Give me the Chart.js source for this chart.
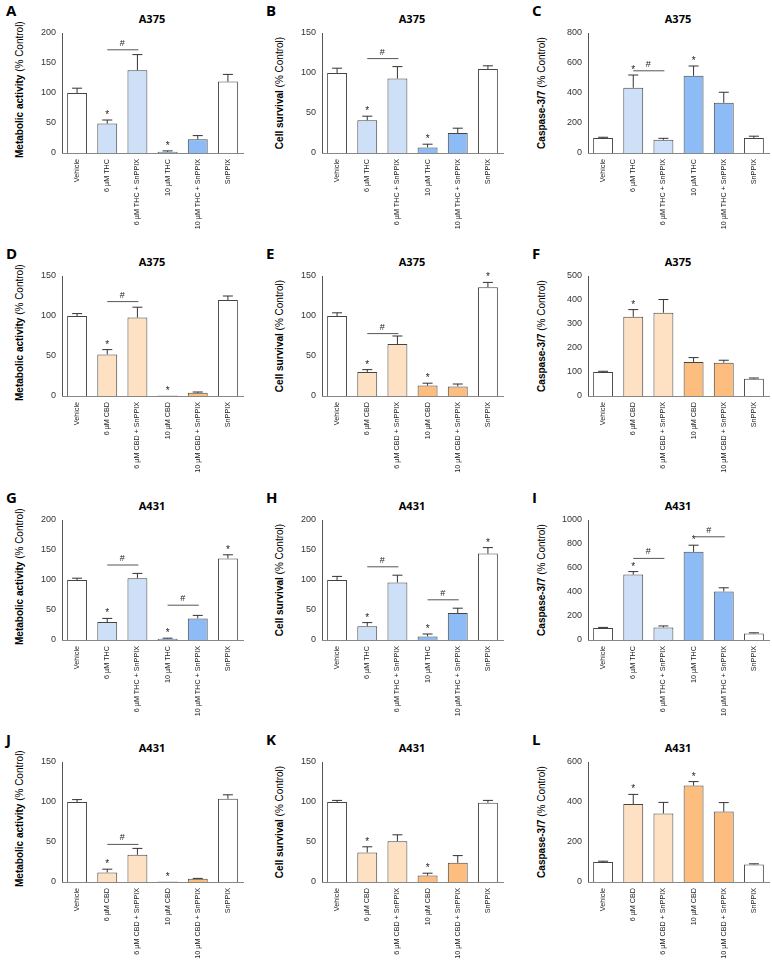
<!DOCTYPE html>
<html><head><meta charset="utf-8">
<script src="https://cdn.jsdelivr.net/npm/chart.js@4.4.0/dist/chart.umd.min.js"></script>
<style>
body{margin:0;background:#fff;width:772px;height:960px;position:relative;font-family:"Liberation Sans",Arial,sans-serif;overflow:hidden}
canvas{position:absolute}
.lt{position:absolute;font:bold 15px "Open Sans",Arial,sans-serif}
.ti{position:absolute;font:bold 11px "Open Sans",Arial,sans-serif;width:180px;text-align:center}
.yt{position:absolute;transform-origin:0 0;transform:rotate(-90deg);font-size:10px;white-space:nowrap;width:130px;text-align:center}
</style></head><body>
<script>
const thcCats=["Vehicle","6 µM THC","6 µM THC + SnPPIX","10 µM THC","10 µM THC + SnPPIX","SnPPIX"];
const cbdCats=["Vehicle","6 µM CBD","6 µM CBD + SnPPIX","10 µM CBD","10 µM CBD + SnPPIX","SnPPIX"];
const letters=["A","B","C","D","E","F","G","H","I","J","K","L"];
const cells=["A375","A375","A375","A375","A375","A375","A431","A431","A431","A431","A431","A431"];
const yTitles=["Metabolic activity","Cell survival","Caspase-3/7"];
const valsA=[100,49,138,2,23,119], errA=[8,6,26,1.5,6,12];
const valsB=[100,41,93,7,25,105], errB=[6,5,15,4,6,4];
const valsC=[100,435,88,515,335,100], errC=[5,85,10,65,70,12];
const valsD=[100,52,98,0.5,4,120], errD=[3,6,13,0,1,5];
const valsE=[100,30,65,13,12,136], errE=[4,3,10,3,3,6];
const valsF=[100,330,347,142,139,72], errF=[3,30,55,18,10,3];
const valsG=[100,30,103,2,36,136], errG=[3,6,8,1,5,6];
const valsH=[100,23,96,6,45,144], errH=[6,6,12,4,8,10];
const valsI=[100,545,105,735,405,55], errI=[5,25,12,55,30,5];
const valsJ=[100,12,34,0.5,4,104], errJ=[3,4,8,0,0.5,5];
const valsK=[100,37,51,8,24,99], errK=[2,7,8,3,9,3];
const valsL=[100,390,343,482,352,88], errL=[4,48,55,20,45,3];
const yMax=[200,150,800,150,150,500,200,200,1000,150,150,600];
const ySteps=[50,50,200,50,50,100,50,50,200,50,50,200];
const starsIdx=[[1,3],[1,3],[1,3],[1,3],[1,3,5],[1],[1,3,5],[1,3,5],[1,3],[1,3],[1,3],[1,3]];
const hashes=[[[1,2,172]],[[1,2,118]],[[1,2,548]],[[1,2,118]],[[1,2,78]],[],[[1,2,125],[3,4,58]],[[1,2,122],[3,4,67]],[[1,2,680],[3,4,860]],[[1,2,47]],[],[]];
const allVals=[valsA,valsB,valsC,valsD,valsE,valsF,valsG,valsH,valsI,valsJ,valsK,valsL];
const allErr=[errA,errB,errC,errD,errE,errF,errG,errH,errI,errJ,errK,errL];
const blueFill=["#ffffff","#cde0f8","#cde0f8","#8dbbf5","#8dbbf5","#ffffff"];
const orFill=["#ffffff","#fde1c2","#fde1c2","#fcbd7f","#fcbd7f","#ffffff"];
const colL=[32,292,558], rowT=[25,268,512,754];

const annot={id:'annot',afterDatasetsDraw(c){
  const k=c.options.plugins.annot.k, ctx=c.ctx, y=c.scales.y, meta=c.getDatasetMeta(0);
  const v=allVals[k], e=allErr[k];
  ctx.save();ctx.strokeStyle="#333";ctx.lineWidth=1;ctx.fillStyle="#222";
  meta.data.forEach((b,i)=>{
    const top=y.getPixelForValue(v[i]+e[i]), base=y.getPixelForValue(v[i]);
    if(e[i]>0){ctx.beginPath();ctx.moveTo(b.x,base);ctx.lineTo(b.x,top);ctx.moveTo(b.x-5,top);ctx.lineTo(b.x+5,top);ctx.stroke();}
    if(starsIdx[k].includes(i)){ctx.font="10px 'Liberation Sans'";ctx.textAlign="center";ctx.fillText("*",b.x,top-2);}
  });
  hashes[k].forEach(([a,bb,h])=>{const py=y.getPixelForValue(h);
    ctx.strokeStyle="#555";ctx.beginPath();ctx.moveTo(meta.data[a].x,py);ctx.lineTo(meta.data[bb].x+1,py);ctx.stroke();
    ctx.font="9px 'Liberation Sans'";ctx.textAlign="center";ctx.fillText("#",(meta.data[a].x+meta.data[bb].x)/2,py-4);});
  ctx.restore();}};

for(let k=0;k<12;k++){
  const r=Math.floor(k/3), col=k%3, thc=(r===0||r===2);
  const L=colL[col], T=rowT[r];
  const d=document.createElement('div');d.className='lt';d.textContent=letters[k];d.style.left=(L-26)+'px';d.style.top=(T-25)+'px';document.body.appendChild(d);
  const t=document.createElement('div');t.className='ti';t.textContent=cells[k];t.style.left=(L+30)+'px';t.style.top=(T-14)+'px';document.body.appendChild(t);
  const yt=document.createElement('div');yt.className='yt';yt.innerHTML='<b>'+yTitles[col]+'</b> (% Control)';
  yt.style.left=(L-18+(col===2?-4:0))+'px';yt.style.top=(T+133)+'px';document.body.appendChild(yt);
  const cv=document.createElement('canvas');cv.style.left=L+'px';cv.style.top=T+'px';cv.style.width='215px';cv.style.height='206px';
  cv.width=215;cv.height=206;document.body.appendChild(cv);
  new Chart(cv,{type:'bar',plugins:[annot],data:{labels:thc?thcCats:cbdCats,datasets:[{data:allVals[k],backgroundColor:thc?blueFill:orFill,borderColor:"#444",borderWidth:1,borderSkipped:'bottom',barPercentage:0.66,categoryPercentage:1}]},
   options:{responsive:false,animation:false,devicePixelRatio:1,layout:{padding:{top:8,right:4,left:0}},
    plugins:{legend:{display:false},tooltip:{enabled:false},annot:{k}},
    scales:{
     y:{min:0,max:yMax[k],afterFit(s){s.width=30},ticks:{stepSize:ySteps[k],color:"#333",font:{size:9,family:"Liberation Sans"},padding:2,callback:v=>String(v)},
        grid:{display:false,drawTicks:true,tickLength:4,color:"#555"},border:{display:true,color:"#555"}},
     x:{afterFit(s){s.height=78},ticks:{maxRotation:90,minRotation:90,autoSkip:false,color:"#222",font:{size:7.2,family:"Liberation Sans"},padding:2},
        grid:{display:false,drawTicks:true,tickLength:4,color:"#888"},border:{display:true,color:"#888"}}}}});
}
</script></body></html>
